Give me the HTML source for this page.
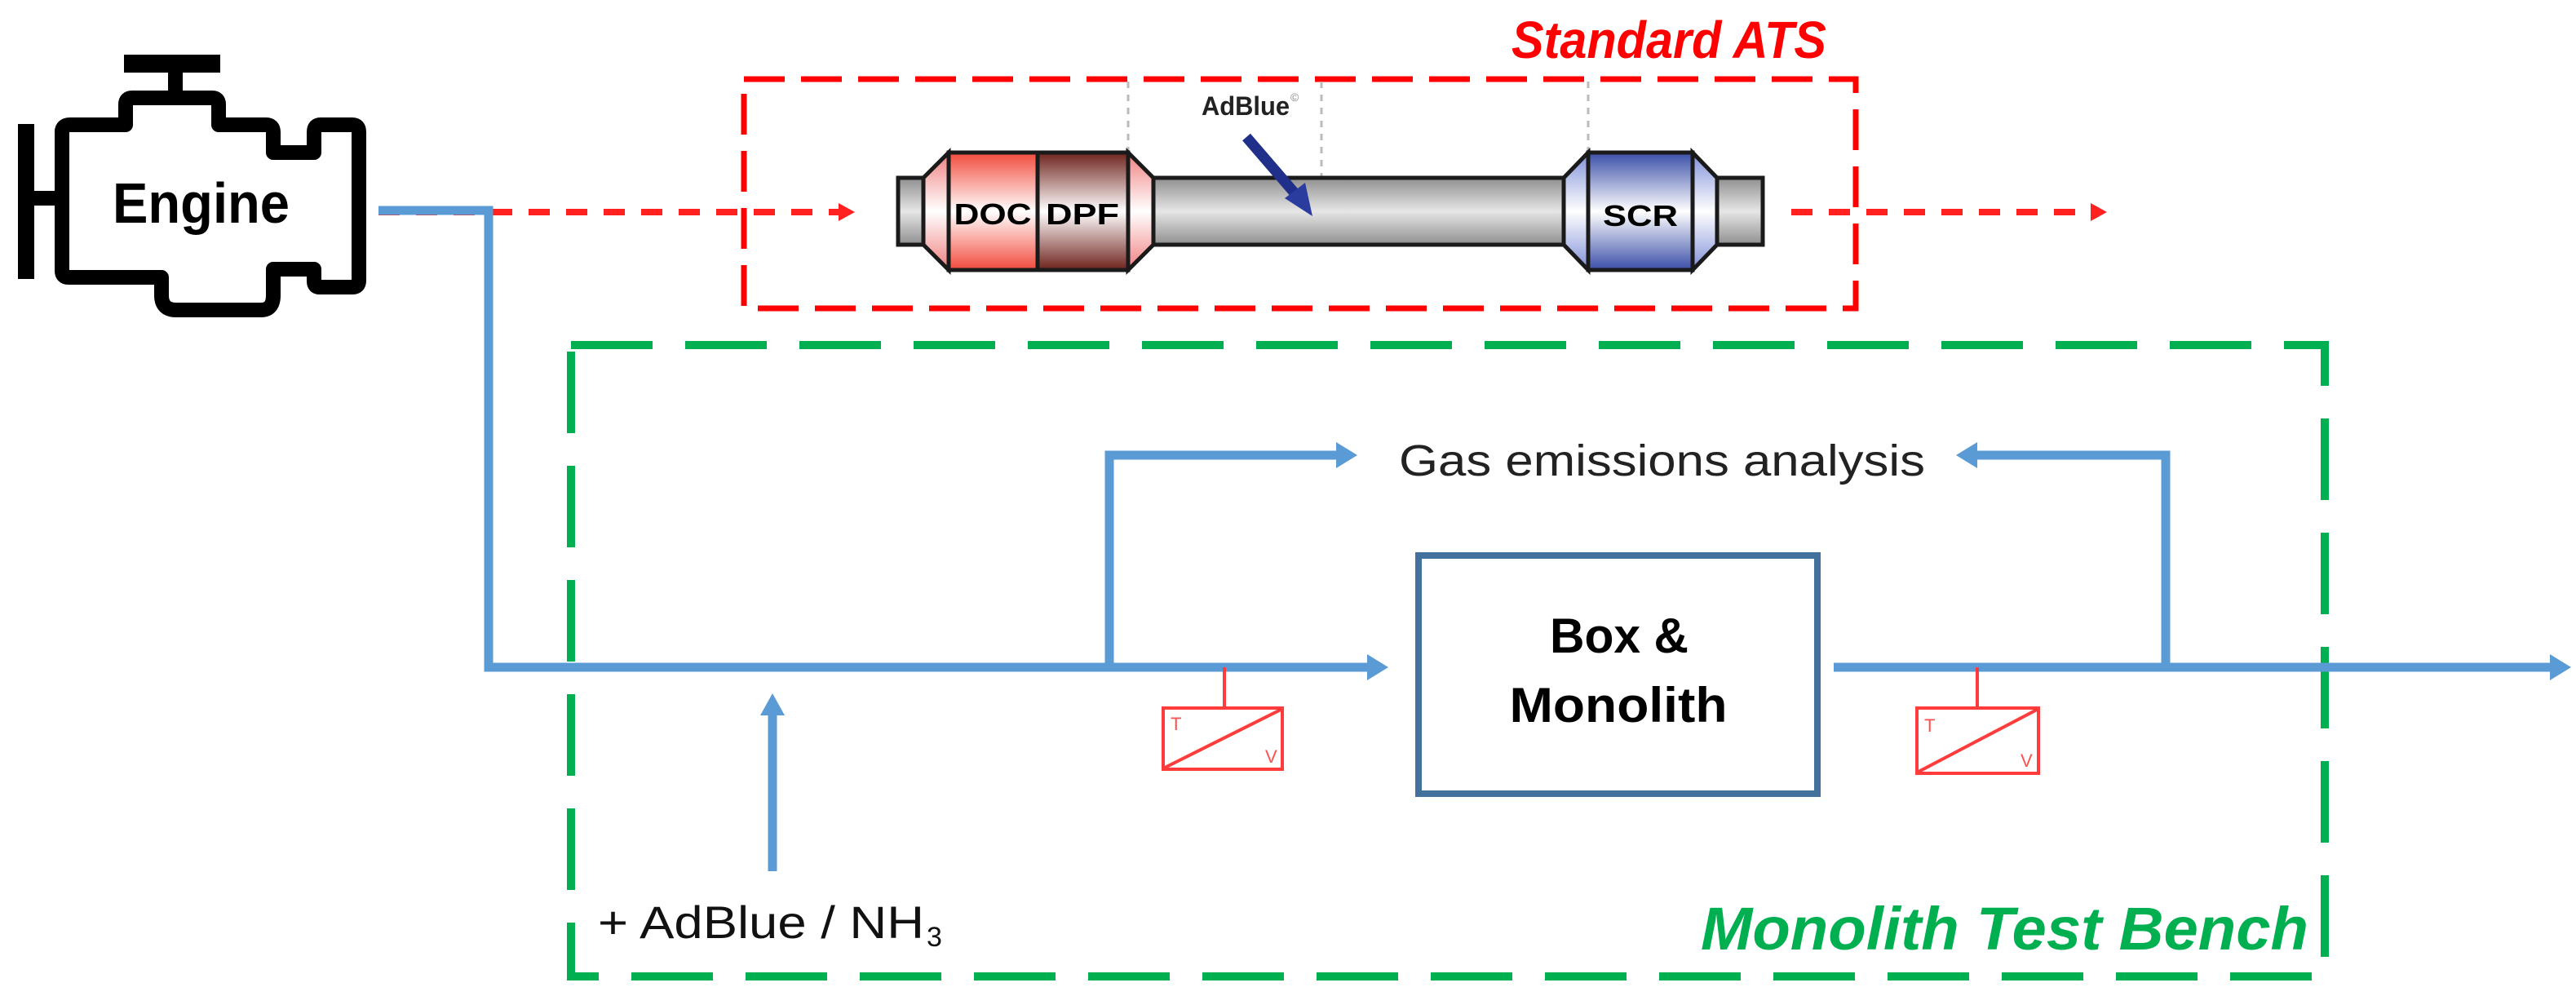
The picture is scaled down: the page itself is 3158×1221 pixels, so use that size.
<!DOCTYPE html>
<html><head><meta charset="utf-8"><style>html,body{margin:0;padding:0;background:#fff}svg{display:block}</style></head>
<body>
<svg width="3158" height="1221" viewBox="0 0 3158 1221" xmlns="http://www.w3.org/2000/svg">
<defs>
<linearGradient id="gp" x1="0" y1="0" x2="0" y2="1"><stop offset="0" stop-color="#8f8f8f"/><stop offset="0.5" stop-color="#e6e6e6"/><stop offset="1" stop-color="#8f8f8f"/></linearGradient>
<linearGradient id="gdoc" x1="0" y1="0" x2="0" y2="1"><stop offset="0" stop-color="#f24a3c"/><stop offset="0.5" stop-color="#fff"/><stop offset="1" stop-color="#f24a3c"/></linearGradient>
<linearGradient id="gdpf" x1="0" y1="0" x2="0" y2="1"><stop offset="0" stop-color="#6e221c"/><stop offset="0.5" stop-color="#fff"/><stop offset="1" stop-color="#6e221c"/></linearGradient>
<linearGradient id="gscr" x1="0" y1="0" x2="0" y2="1"><stop offset="0" stop-color="#3a4ea8"/><stop offset="0.5" stop-color="#fff"/><stop offset="1" stop-color="#3a4ea8"/></linearGradient>
<linearGradient id="gtr" x1="0" y1="0" x2="0" y2="1"><stop offset="0" stop-color="#f08080"/><stop offset="0.5" stop-color="#fff"/><stop offset="1" stop-color="#f08080"/></linearGradient>
<linearGradient id="gtb" x1="0" y1="0" x2="0" y2="1"><stop offset="0" stop-color="#8090d8"/><stop offset="0.5" stop-color="#fff"/><stop offset="1" stop-color="#8090d8"/></linearGradient>
</defs>

<!-- Engine -->
<g fill="none" stroke="#000" stroke-width="18" stroke-linejoin="round">
<path d="M76,160 L76,332 Q76,340 84,340 L198,340 L198,362 Q198,380 216,380 L320,380 Q335,380 335,362 L335,330 L385,330 L385,345 Q385,352 392,352 L432,352 Q440,352 440,344 L440,162 Q440,153 432,153 L393,153 Q385,153 385,162 L385,187 L335,187 L335,162 Q335,153 326,153 L268,153 L268,128 Q268,120 260,120 L162,120 Q154,120 154,128 L154,153 L86,153 Q76,153 76,162 Z"/>
</g>
<rect x="152" y="67" width="118" height="22" fill="#000"/>
<rect x="206" y="86" width="18" height="36" fill="#000"/>
<rect x="22" y="152" width="20" height="190" fill="#000"/>
<rect x="40" y="234" width="30" height="18" fill="#000"/>
<text x="138" y="273" font-family="Liberation Sans, sans-serif" font-weight="bold" font-size="70" textLength="217" lengthAdjust="spacingAndGlyphs">Engine</text>

<!-- Standard ATS box -->
<rect x="912" y="97" width="1363" height="281" fill="none" stroke="#ff0000" stroke-width="7" stroke-dasharray="50,20"/>
<text x="1853" y="71" font-family="Liberation Sans, sans-serif" font-weight="bold" font-style="italic" font-size="64" fill="#ff0000" textLength="386" lengthAdjust="spacingAndGlyphs">Standard ATS</text>

<!-- dotted guide lines -->
<g stroke="#bbb" stroke-width="3" stroke-dasharray="8,8">
<line x1="1383" y1="100" x2="1383" y2="187"/>
<line x1="1620" y1="100" x2="1620" y2="218"/>
<line x1="1947" y1="100" x2="1947" y2="187"/>
</g>

<!-- ATS pipe -->
<g stroke="#1a1a1a" stroke-width="5">
<rect x="1101" y="218" width="40" height="82" fill="url(#gp)"/>
<rect x="1410" y="218" width="512" height="82" fill="url(#gp)"/>
<rect x="2100" y="218" width="61" height="82" fill="url(#gp)"/>
<polygon points="1163,187 1132,218 1132,300 1163,331" fill="url(#gtr)"/>
<polygon points="1383,187 1414,218 1414,300 1383,331" fill="url(#gtr)"/>
<rect x="1163" y="187" width="109" height="144" fill="url(#gdoc)"/>
<rect x="1272" y="187" width="111" height="144" fill="url(#gdpf)"/>
<polygon points="1947,187 1917,218 1917,300 1947,331" fill="url(#gtb)"/>
<polygon points="2075,187 2105,218 2105,300 2075,331" fill="url(#gtb)"/>
<rect x="1947" y="187" width="128" height="144" fill="url(#gscr)"/>
</g>
<g font-family="Liberation Sans, sans-serif" font-weight="bold" font-size="36" text-anchor="middle">
<text x="1217" y="275" textLength="95" lengthAdjust="spacingAndGlyphs">DOC</text>
<text x="1327" y="275" textLength="90" lengthAdjust="spacingAndGlyphs">DPF</text>
<text x="2011" y="277" textLength="92" lengthAdjust="spacingAndGlyphs">SCR</text>
</g>
<text x="1473" y="141" font-family="Liberation Sans, sans-serif" font-weight="bold" font-size="32" fill="#222" textLength="108" lengthAdjust="spacingAndGlyphs">AdBlue</text>
<text x="1582" y="124" font-family="Liberation Sans, sans-serif" font-size="14" fill="#888">©</text>
<line x1="1528" y1="168" x2="1590" y2="240" stroke="#1f2f8a" stroke-width="13"/>
<polygon points="1609,265 1575,243 1600,224" fill="#2a3c9e"/>

<!-- red dashed flow -->
<line x1="464" y1="260" x2="1030" y2="260" stroke="#ff2020" stroke-width="8" stroke-dasharray="26,20"/>
<polygon points="1048,260 1028,249 1028,271" fill="#ff2020"/>
<line x1="2196" y1="260" x2="2565" y2="260" stroke="#ff2020" stroke-width="8" stroke-dasharray="26,20"/>
<polygon points="2583,260 2563,249 2563,271" fill="#ff2020"/>

<!-- Green box -->
<rect x="700" y="423" width="2150" height="774" fill="none" stroke="#00b050" stroke-width="10" stroke-dasharray="100,40"/>
<text x="2085" y="1164" font-family="Liberation Sans, sans-serif" font-weight="bold" font-style="italic" font-size="74" fill="#00b050" textLength="745" lengthAdjust="spacingAndGlyphs">Monolith Test Bench</text>

<!-- Blue flow lines -->
<g stroke="#5b9bd5" stroke-width="11" fill="none">
<polyline points="464,258 599,258 599,818 1680,818"/>
<polyline points="1360,818 1360,558 1645,558"/>
<line x1="2248" y1="818" x2="3130" y2="818"/>
<polyline points="2655,818 2655,558 2420,558"/>
<line x1="947" y1="1068" x2="947" y2="875"/>
</g>
<g fill="#5b9bd5">
<polygon points="1702,818 1676,802 1676,834"/>
<polygon points="1664,558 1638,542 1638,574"/>
<polygon points="3152,818 3126,802 3126,834"/>
<polygon points="2398,558 2424,542 2424,574"/>
<polygon points="947,850 932,877 962,877"/>
</g>

<!-- Gas emissions -->
<text x="1715" y="583" font-family="Liberation Sans, sans-serif" font-size="54" fill="#222" textLength="645" lengthAdjust="spacingAndGlyphs">Gas emissions analysis</text>

<!-- Box & Monolith -->
<rect x="1739" y="681" width="489" height="292" fill="#fff" stroke="#41719c" stroke-width="8"/>
<g font-family="Liberation Sans, sans-serif" font-weight="bold" font-size="60" text-anchor="middle">
<text x="1985" y="800" textLength="170" lengthAdjust="spacingAndGlyphs">Box &amp;</text>
<text x="1984" y="885" textLength="267" lengthAdjust="spacingAndGlyphs">Monolith</text>
</g>

<!-- Sensors -->
<g stroke="#ff3b3b" stroke-width="4" fill="none">
<line x1="1501" y1="818" x2="1501" y2="868"/>
<rect x="1426" y="868" width="146" height="75"/>
<line x1="1428" y1="941" x2="1570" y2="870"/>
<line x1="2424" y1="818" x2="2424" y2="868"/>
<rect x="2350" y="868" width="149" height="80"/>
<line x1="2352" y1="946" x2="2497" y2="870"/>
</g>
<g font-family="Liberation Sans, sans-serif" font-size="22" fill="#ff5050">
<text x="1435" y="895">T</text><text x="1551" y="935">V</text>
<text x="2359" y="897">T</text><text x="2477" y="940">V</text>
</g>

<!-- AdBlue / NH3 -->
<text x="733" y="1150" font-family="Liberation Sans, sans-serif" font-size="56" fill="#111" textLength="400" lengthAdjust="spacingAndGlyphs">+ AdBlue / NH</text>
<text x="1136" y="1160" font-family="Liberation Sans, sans-serif" font-size="34" fill="#111">3</text>
</svg>
</body></html>
